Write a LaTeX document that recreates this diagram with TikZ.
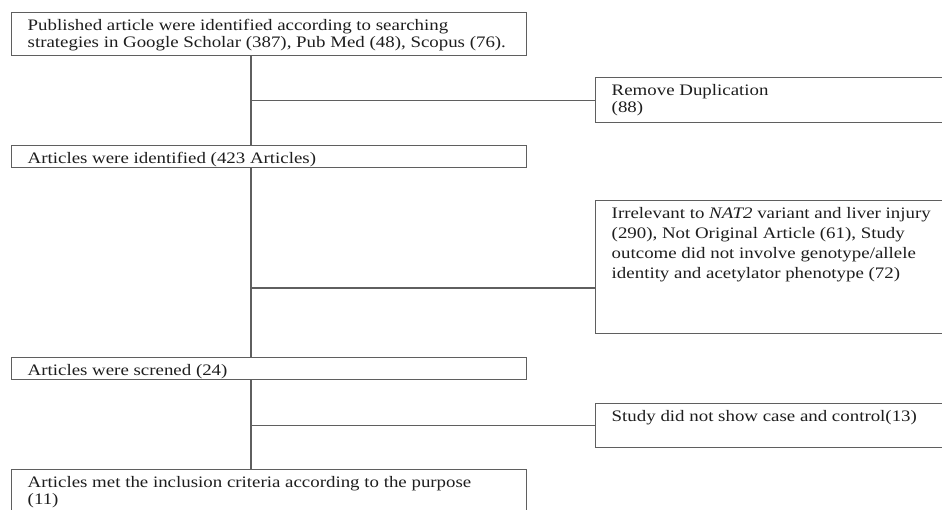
\documentclass[tikz,border=0pt]{standalone}
\usepackage{fontspec}
\setmainfont{Liberation Serif}[FakeStretch=1.18]
\usetikzlibrary{positioning,calc}
\definecolor{framegray}{RGB}{95,95,95}
\definecolor{inkgray}{RGB}{30,30,30}

% text block of a fixed size, set from the top
\newcommand{\boxtext}[3]{\parbox[b][#2][t]{#1}{\raggedright\rule{0pt}{13pt}#3}}

\begin{document}
\begin{tikzpicture}[x=0.75pt, y=-0.75pt,
    stagebox/.style={draw=framegray, line width=1.1pt, fill=white, anchor=north west,
        inner xsep=12pt, inner ysep=0pt, text=inkgray, font=\fontsize{12pt}{13pt}\selectfont},
    link/.style={draw=framegray, line width=1.1pt}]
    \useasboundingbox (0,0) rectangle (942,510);

    % Main column
    \node[stagebox] (found) at (11,12) {\boxtext{362.25pt}{32.25pt}{Published article were identified according to searching\\strategies in Google Scholar (387), Pub Med (48), Scopus (76).}};
    \node[stagebox] (identified) at (11,145) {\boxtext{362.25pt}{16.5pt}{Articles were identified (423 Articles)}};
    \node[stagebox] (screened) at (11,357) {\boxtext{362.25pt}{16.5pt}{Articles were screned (24)}};
    \node[stagebox] (included) at (11,469) {\boxtext{362.25pt}{45pt}{Articles met the inclusion criteria according to the purpose\\(11)}};

    % Excluded records
    \node[stagebox] (dup) at (595,77) {\boxtext{239.25pt}{33.75pt}{Remove Duplication\\(88)}};
    \node[stagebox, font=\fontsize{12pt}{15pt}\selectfont] (irr) at (595,200) {\boxtext{239.25pt}{99.75pt}{Irrelevant to \textit{NAT2} variant and liver injury\\(290), Not Original Article (61), Study\\outcome did not involve genotype/allele\\identity and acetylator phenotype (72)}};
    \node[stagebox] (study) at (595,403) {\boxtext{239.25pt}{33pt}{Study did not show case and control(13)}};

    % Connectors
    \coordinate (spine) at (251,0);
    \coordinate (irrjoin) at ([yshift=-15.4pt]irr.west);
    \draw[link] (found.south -| spine) -- (identified.north -| spine);
    \draw[link] (identified.south -| spine) -- (screened.north -| spine);
    \draw[link] (screened.south -| spine) -- (included.north -| spine);
    \foreach \target in {dup.west, irrjoin, study.west}
        \draw[link] (spine |- \target) -- (\target);
\end{tikzpicture}
\end{document}
